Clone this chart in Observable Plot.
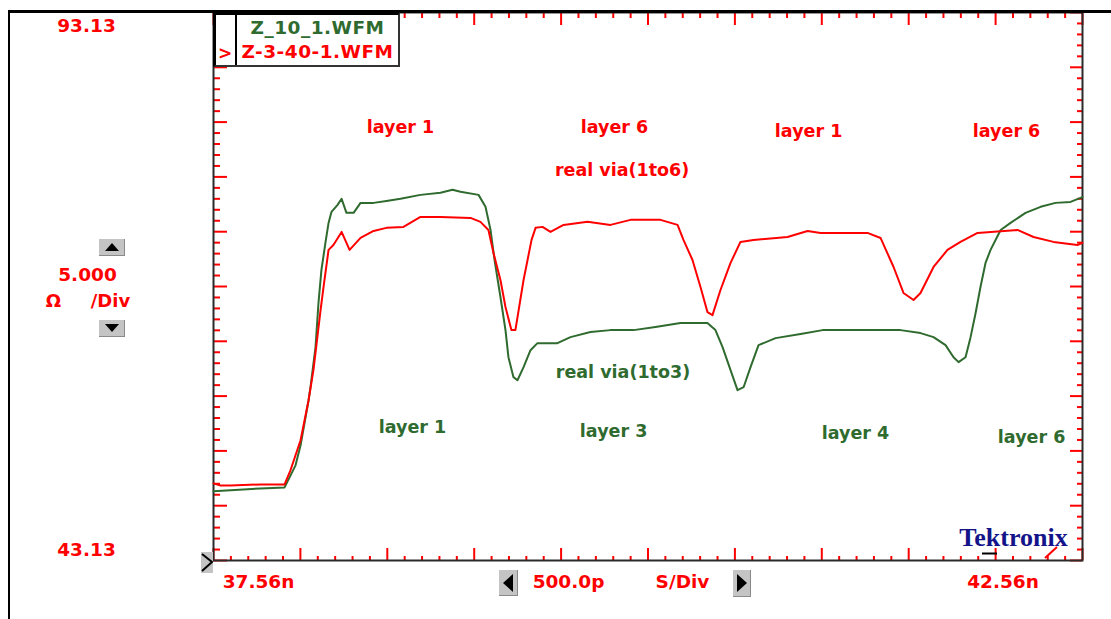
<!DOCTYPE html>
<html>
<head>
<meta charset="utf-8">
<script src="https://cdn.jsdelivr.net/npm/d3@7"></script>
<script src="https://cdn.jsdelivr.net/npm/@observablehq/plot@0.6"></script>
<style>
  html, body { margin: 0; padding: 0; background: #fff; }
  #wrap { position: relative; width: 1111px; height: 619px; overflow: hidden; font-family: "DejaVu Sans", sans-serif; font-weight: bold; }
  #chart { position: absolute; left: 0; top: 0; }
  .outer { position: absolute; left: 8px; top: 10px; width: 1103px; height: 609px; border-left: 2px solid #000; border-top: 3px solid #000; box-sizing: border-box; pointer-events: none; }
  .btn { position: absolute; background: #c4c4c4; border-right: 1px solid #8a8a8a; border-bottom: 1px solid #8a8a8a; box-sizing: border-box; display: flex; align-items: center; justify-content: center; }
  .tri-up { width: 0; height: 0; border-left: 7px solid transparent; border-right: 7px solid transparent; border-bottom: 8px solid #000; }
  .tri-down { width: 0; height: 0; border-left: 7px solid transparent; border-right: 7px solid transparent; border-top: 8px solid #000; }
  .tri-left { width: 0; height: 0; border-top: 9px solid transparent; border-bottom: 9px solid transparent; border-right: 10px solid #000; }
  .tri-right { width: 0; height: 0; border-top: 9px solid transparent; border-bottom: 9px solid transparent; border-left: 10px solid #000; }
  #legend { position: absolute; left: 213px; top: 12px; width: 187px; height: 55px; background: #fff; border: 2px solid #333; border-left: 3px solid #000; border-top: 3px solid #000; box-sizing: border-box; }
  #legend .sep { position: absolute; left: 19px; top: 0; bottom: 0; border-left: 2px solid #000; }
  #legend .row { position: absolute; left: 21px; right: 0; text-align: center; font-size: 18.5px; letter-spacing: 0.5px; line-height: 24px; }
  #legend .mark { position: absolute; left: 2px; font-size: 17px; line-height: 24px; color: #ff0000; }
</style>
</head>
<body>
<div id="wrap">
  <div id="chart"></div>
  <div class="outer"></div>
  <div id="legend"></div>
  <div class="btn" style="left:99px;top:239px;width:26px;height:17px;"><div class="tri-up"></div></div>
  <div class="btn" style="left:99px;top:320px;width:26px;height:17px;"><div class="tri-down"></div></div>
  <div class="btn" style="left:499px;top:570px;width:19px;height:26px;"><div class="tri-left"></div></div>
  <div class="btn" style="left:733px;top:570px;width:18px;height:27px;"><div class="tri-right"></div></div>
  <div style="position:absolute;left:201px;top:552px;width:12px;height:21px;background:#c4c4c4;">
    <svg width="12" height="21" style="position:absolute;left:0;top:0"><polyline points="1,2 11,10 1,19" fill="none" stroke="#000" stroke-width="2"/></svg>
  </div>
  <svg width="1111" height="619" style="position:absolute;left:0;top:0;pointer-events:none">
    <line x1="982" y1="553.5" x2="997" y2="553.5" stroke="#000" stroke-width="2"/>
    <line x1="1045" y1="558" x2="1057" y2="547" stroke="#ff0000" stroke-width="2"/>
  </svg>
</div>
<script>
// ---- scale settings (from the scope screen) ----
const yTopLabel = "93.13";
const yBottomLabel = "43.13";
const xStartLabel = "37.56n";
const xEndLabel = "42.56n";
const yPerDivLabel = "5.000";
const yUnitLabels = ["Ω", "/Div"];
const xPerDivLabels = ["500.0p", "S/Div"];
const yTop = 93.13, yBottom = 43.13;      // ohms
const xStart = 37.56, xEnd = 42.56;       // ns
const xDiv = 0.5, yDiv = 5, subDiv = 5;

// ---- series: Z_10_1.WFM (green) ----
const greenName = "Z_10_1.WFM";
const greenTime = [37.560,37.658,37.830,37.969,38.032,38.061,38.107,38.118,38.147,38.164,38.181,38.204,38.222,38.239,38.274,38.297,38.325,38.366,38.406,38.481,38.555,38.636,38.751,38.866,38.935,38.981,39.085,39.125,39.154,39.177,39.211,39.240,39.257,39.286,39.309,39.344,39.384,39.424,39.539,39.614,39.729,39.844,39.977,40.103,40.247,40.402,40.448,40.489,40.535,40.575,40.610,40.650,40.696,40.794,40.938,41.065,41.513,41.628,41.703,41.772,41.818,41.847,41.887,41.916,41.945,41.973,42.002,42.031,42.089,42.146,42.232,42.319,42.405,42.491,42.549,42.560];
const greenOhm  = [49.44,49.53,49.71,49.80,51.81,53.64,57.75,58.94,62.60,66.62,69.64,72.11,73.93,74.94,75.58,76.13,74.85,74.85,75.76,75.76,75.94,76.13,76.49,76.68,76.95,76.77,76.49,75.40,73.29,70.55,67.17,64.15,61.68,59.86,59.58,60.77,62.32,62.96,62.96,63.51,63.97,64.15,64.15,64.43,64.79,64.79,64.15,62.60,60.50,58.67,58.94,60.77,62.78,63.42,63.79,64.15,64.15,63.88,63.51,62.78,61.68,61.23,61.68,63.51,65.71,68.08,70.28,71.47,73.29,73.93,74.85,75.40,75.76,75.85,76.22,76.30];

// ---- series: Z-3-40-1.WFM (red) ----
const redName = "Z-3-40-1.WFM";
const redTime = [37.560,37.600,37.658,37.830,37.969,38.003,38.061,38.107,38.135,38.176,38.193,38.222,38.250,38.297,38.343,38.406,38.481,38.555,38.653,38.751,38.866,39.039,39.096,39.142,39.171,39.211,39.240,39.274,39.297,39.344,39.390,39.413,39.453,39.499,39.574,39.712,39.844,39.959,40.132,40.230,40.264,40.316,40.362,40.402,40.431,40.477,40.535,40.592,40.667,40.863,40.978,41.053,41.323,41.398,41.473,41.530,41.588,41.628,41.703,41.783,41.858,41.956,42.186,42.278,42.393,42.531,42.560];
const redOhm  = [50.17,49.98,49.98,50.07,50.07,51.36,54.10,57.75,60.50,65.98,68.08,71.47,71.92,73.11,71.47,72.56,73.20,73.48,73.57,74.48,74.48,74.39,74.03,73.29,71.19,68.72,66.26,64.15,64.15,68.72,72.38,73.48,73.57,73.11,73.75,74.03,73.75,74.21,74.21,73.75,72.38,70.55,68.08,65.80,65.52,67.81,70.28,72.20,72.38,72.65,73.20,73.02,73.02,72.56,69.91,67.54,66.90,67.54,69.91,71.47,72.20,73.02,73.29,72.65,72.20,71.92,72.11];

// ---- annotations ----
const redNoteText = ["layer 1", "layer 6", "layer 1", "layer 6", "real via(1to6)"];
const redNoteTime = [38.636, 39.867, 40.984, 42.123, 39.911];
const redNoteOhm  = [82.68, 82.68, 82.27, 82.27, 78.71];
const greenNoteText = ["real via(1to3)", "layer 1", "layer 3", "layer 4", "layer 6"];
const greenNoteTime = [39.916, 38.705, 39.862, 41.254, 42.267];
const greenNoteOhm  = [60.28, 55.26, 54.90, 54.72, 54.35];

const brand = "Tektronix";

const RED = "#ff0000", GREEN = "#2f6b2f";

const greenData = greenTime.map((t, i) => ({t, v: greenOhm[i]}));
const redData = redTime.map((t, i) => ({t, v: redOhm[i]}));
const redNotes = redNoteText.map((s, i) => ({s, t: redNoteTime[i], v: redNoteOhm[i]}));
const greenNotes = greenNoteText.map((s, i) => ({s, t: greenNoteTime[i], v: greenNoteOhm[i]}));

const nx = Math.round((xEnd - xStart) / xDiv) * subDiv;
const ny = Math.round((yTop - yBottom) / yDiv) * subDiv;
const xTicks = d3.range(nx + 1).map(i => ({x: xStart + i * xDiv / subDiv, major: i % subDiv === 0}));
const yTicks = d3.range(ny + 1).map(i => ({y: yBottom + i * yDiv / subDiv, major: i % subDiv === 0}));
const xMajor = xTicks.filter(d => d.major), xMinor = xTicks.filter(d => !d.major);
const yMajor = yTicks.filter(d => d.major), yMinor = yTicks.filter(d => !d.major);

const W = 1111, H = 619, mL = 213, mR = 29, mT = 12, mB = 59;
const pw = W - mL - mR, ph = H - mT - mB;
const tk = {stroke: RED, strokeWidth: 2};
const lab = {fill: RED, fontSize: 18.5, lineAnchor: "middle", textAnchor: "middle"};

const chart = Plot.plot({
  width: W, height: H,
  marginLeft: mL, marginRight: mR, marginTop: mT, marginBottom: mB,
  x: {domain: [xStart, xEnd], axis: null},
  y: {domain: [yBottom, yTop], axis: null},
  style: {fontFamily: "DejaVu Sans, sans-serif", fontWeight: "bold", background: "transparent", overflow: "visible"},
  marks: [
    // ticks (red, drawn inward from each edge)
    Plot.tickX(xMajor, {x: "x", insetBottom: ph - 13, ...tk}),
    Plot.tickX(xMinor, {x: "x", insetBottom: ph - 6, ...tk}),
    Plot.tickX(xMajor, {x: "x", insetTop: ph - 12, ...tk}),
    Plot.tickX(xMinor, {x: "x", insetTop: ph - 4, ...tk}),
    Plot.tickY(yMajor, {y: "y", insetRight: pw - 14, ...tk}),
    Plot.tickY(yMinor, {y: "y", insetRight: pw - 7, ...tk}),
    Plot.tickY(yMajor, {y: "y", insetLeft: pw - 12, ...tk}),
    Plot.tickY(yMinor, {y: "y", insetLeft: pw - 5, ...tk}),
    Plot.frame({stroke: "#2a2a2a", strokeWidth: 2}),
    // waveforms
    Plot.line(greenData, {x: "t", y: "v", stroke: GREEN, strokeWidth: 2}),
    Plot.line(redData, {x: "t", y: "v", stroke: RED, strokeWidth: 2}),
    // annotations
    Plot.text(redNotes, {x: "t", y: "v", text: "s", fill: RED, fontSize: 17.5, lineAnchor: "middle"}),
    Plot.text(greenNotes, {x: "t", y: "v", text: "s", fill: GREEN, fontSize: 17.5, lineAnchor: "middle"}),
    // scale readouts
    Plot.text([yTopLabel], {y: d => +d, text: d => d, frameAnchor: "left", dx: -127, dy: 13.5, ...lab}),
    Plot.text([yBottomLabel], {y: d => +d, text: d => d, frameAnchor: "left", dx: -127, dy: -10, ...lab}),
    Plot.text([yPerDivLabel], {text: d => d, frameAnchor: "left", dx: -126, dy: -11, ...lab}),
    Plot.text([yUnitLabels[0]], {text: d => d, frameAnchor: "left", dx: -160, dy: 15, ...lab, fontSize: 18}),
    Plot.text([yUnitLabels[1]], {text: d => d, frameAnchor: "left", dx: -103, dy: 15, ...lab, fontSize: 18}),
    Plot.text([xStart], {x: d => d, text: () => xStartLabel, frameAnchor: "bottom", dx: 45, dy: 21.5, ...lab}),
    Plot.text([xEnd], {x: d => d, text: () => xEndLabel, frameAnchor: "bottom", dx: -79.5, dy: 21.5, ...lab}),
    Plot.text([xPerDivLabels[0]], {text: d => d, frameAnchor: "bottom", dx: -79.5, dy: 21.5, ...lab}),
    Plot.text([xPerDivLabels[1]], {text: d => d, frameAnchor: "bottom", dx: 34.5, dy: 21.5, ...lab}),
    // brand
    Plot.text([brand], {text: d => d, frameAnchor: "bottom-right", dx: -69, dy: -23, textAnchor: "middle", fill: "#14148a", fontSize: 26, fontFamily: "Liberation Serif, serif", fontWeight: "bold", lineAnchor: "middle"})
  ]
});
document.getElementById("chart").appendChild(chart);

// legend
const legend = document.getElementById("legend");
legend.innerHTML =
  `<div class="sep"></div>` +
  `<div class="row" style="top:1px;color:${GREEN}">${greenName}</div>` +
  `<div class="mark" style="top:26px">&gt;</div>` +
  `<div class="row" style="top:25px;color:${RED}">${redName}</div>`;
</script>
</body>
</html>
